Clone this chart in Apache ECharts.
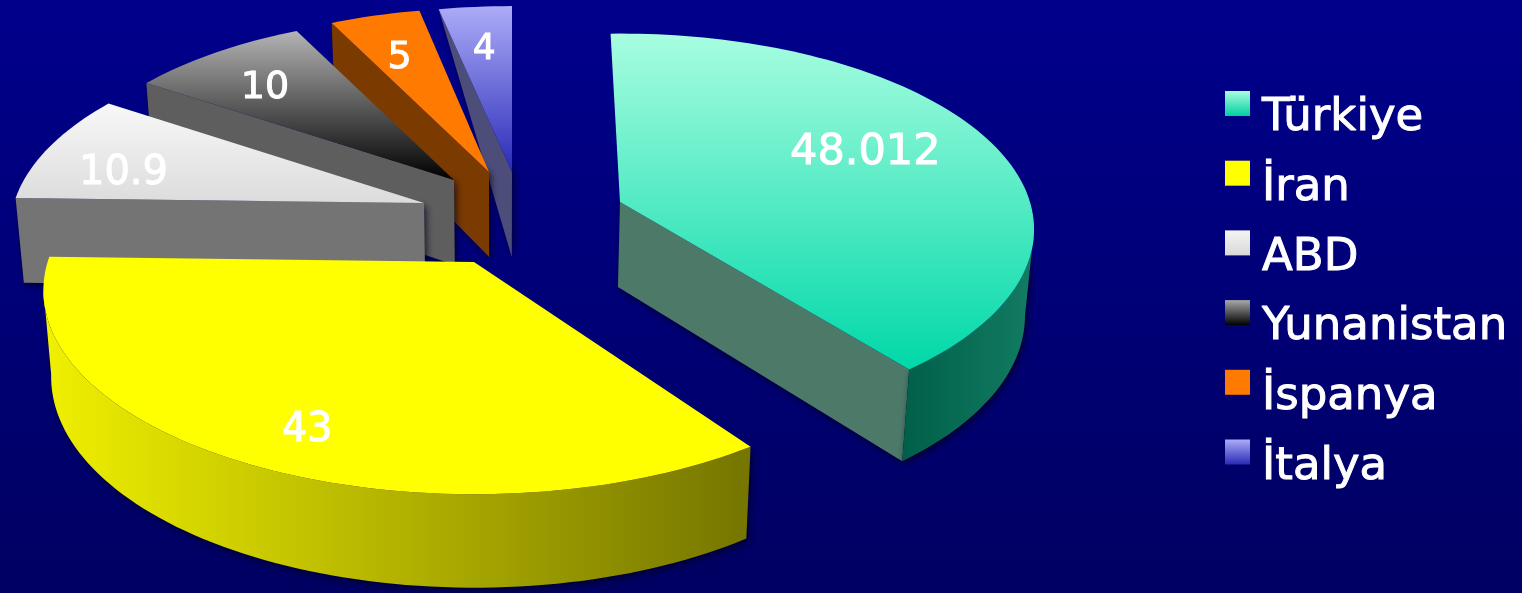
<!DOCTYPE html>
<html><head><meta charset="utf-8">
<style>html,body{margin:0;padding:0;background:#000080}#c{width:1522px;height:593px}</style>
<script src="https://cdn.jsdelivr.net/npm/echarts@6/dist/echarts.min.js"></script></head>
<body><div id="c"></div>
<script>
const categories = ['Türkiye', 'İran', 'ABD', 'Yunanistan', 'İspanya', 'İtalya'];
const values = [48.012, 43, 10.9, 10, 5, 4];

const START_DEG = -1.5, R = 410, K = 192, P = 0.14, DEPTH = 85;
const BASE = [500, 200];
const G = (a, b, h) => new echarts.graphic.LinearGradient(0, 0, h ? 1 : 0, h ? 0 : 1, [{offset: 0, color: a}, {offset: 1, color: b}]);
const looks = [
  {off: [120, 2],   scale: 1,    trim: [0, -.4], top: G('#a8fde0', '#00d8a8'), cut: '#4d7a68', rim: G('#005f48', '#127c62', true), labelR: .60, labelOff: [21, -10], font: 43, z: 16},
  {off: [-26, 62],  scale: 1.04, trim: [3.5, 2], top: '#ffff00', cut: '#7a7a00', rim: G('#f0f000', '#757500', true), labelR: .80, labelOff: [12, 12], font: 40, z: 15},
  {off: [-76, 3],   scale: 1,    trim: [2, 2],   top: G('#f8f8f8', '#dcdcdc'), cut: '#747474', rim: '#747474', labelR: .76, labelOff: [-13, 14], font: 40, z: 14},
  {off: [-46, -20], scale: .975, trim: [2, 2],   top: G('#b4b4b4', '#000000'), cut: '#5e5e5e', rim: '#5e5e5e', labelR: .68, labelOff: [-22, -2], font: 38, z: 13},
  {off: [-11, -28], scale: .975, trim: [2, 2],   top: '#ff7a00', cut: '#7a3a00', rim: '#7a3a00', labelR: .65, labelOff: [-12, -8], font: 38, z: 12},
  {off: [12, -28],  scale: .985, trim: [1.5, 1.5], top: G('#acacf8', '#2a2ab8'), cut: '#4d4d7a', rim: '#4d4d7a', labelR: .62, labelOff: [-4, -15], font: 36, z: 11, farFlat: true}
];
const swatches = [G('#a8fde0', '#00d0a0'), '#ffff00', G('#f4f4f4', '#d8d8d8'), G('#a8a8a8', '#000000'), '#ff7a00', G('#acacf8', '#2a2ab8')];

const total = values.reduce((a, b) => a + b, 0);
function sweep(i) {
  let s = START_DEG;
  for (let j = 0; j < i; j++) s += values[j] / total * 360;
  return [s + looks[i].trim[0], s + values[i] / total * 360 + looks[i].trim[1]];
}
function makeRender(i) {
  const L = looks[i];
  const ax = BASE[0] + L.off[0], ay = BASE[1] + L.off[1];
  const top = (deg, r) => {
    const a = deg * Math.PI / 180, X = Math.sin(a) * r, Y = -Math.cos(a) * r, s = 1 / (1 - P * Y);
    return {x: ax + R * L.scale * X * s, y: ay + K * L.scale * Y * s, Y};
  };
  const down = (p, f) => [BASE[0] + (p.x - BASE[0]) * .983, p.y + f * DEPTH * (1 + .1 * p.Y)];
  return function () {
    const [a0, a1] = sweep(i), kids = [];
    const apex = top(0, 0), n = Math.max(8, Math.ceil((a1 - a0) / 1.5)), arc = [];
    for (let t = 0; t <= n; t++) arc.push(top(a0 + (a1 - a0) * t / n, 1));
    const shadow = {shadowBlur: 7, shadowColor: 'rgba(0,0,30,.75)', shadowOffsetX: 2, shadowOffsetY: 3};
    const wall = (pts, fill) => kids.push({type: 'polygon', shape: {points: pts}, style: Object.assign({fill}, shadow)});
    const first = arc[0], last = arc[n];
    // walk clockwise: faces whose edge runs right-to-left face the viewer
    if (apex.x - first.x > 15) wall([[apex.x, apex.y], [first.x, first.y], L.farFlat ? [first.x, first.y] : down(first, 1), down(apex, 1)], L.cut);
    if (last.x - apex.x > 15) wall([[last.x, last.y], [apex.x, apex.y], down(apex, 1), down(last, 1)], L.cut);
    const rimVis = [];
    for (let t = 0; t < n; t++) if (arc[t + 1].x < arc[t].x) { if (!rimVis.length) rimVis.push(arc[t]); rimVis.push(arc[t + 1]); }
    if (rimVis.length > 1) {
      const pts = rimVis.map(p => [p.x, p.y]).concat(rimVis.slice().reverse().map(p => down(p, 1)));
      wall(pts, L.rim);
    }
    kids.push({type: 'polygon', shape: {points: [[apex.x, apex.y]].concat(arc.map(p => [p.x, p.y]))}, style: {fill: L.top}});
    const lp = top((a0 + a1) / 2, L.labelR);
    kids.push({type: 'text', style: {text: String(values[i]), x: lp.x + L.labelOff[0], y: lp.y + L.labelOff[1], fill: '#fff', stroke: '#fff', lineWidth: 1,
      font: L.font + 'px "DejaVu Sans"', align: 'center', verticalAlign: 'middle'}});
    return {type: 'group', children: kids};
  };
}
const option = {
  animation: false,
  backgroundColor: G('#00008c', '#000062'),
  legend: {
    orient: 'vertical', left: 1220, top: 61, itemWidth: 25, itemHeight: 25, itemGap: -5.8,
    data: categories.map((c, i) => ({name: c, icon: 'rect', itemStyle: {color: swatches[i], borderWidth: 0}})),
    selectedMode: false,
    formatter: n => '{a|' + n + '}',
    textStyle: {color: '#fff', rich: {a: {color: '#fff', fontFamily: 'DejaVu Sans', fontSize: 45, lineHeight: 40, padding: [30, 0, 0, 7], textBorderColor: '#fff', textBorderWidth: 1}}}
  },
  series: categories.map((c, i) => ({
    type: 'custom', name: c, coordinateSystem: 'none', z: looks[i].z, silent: true,
    itemStyle: {color: swatches[i]},
    data: [{name: c, value: [values[i]]}],
    renderItem: makeRender(i)
  }))
};
echarts.init(document.getElementById('c'), null, {renderer: 'canvas'}).setOption(option);
</script></body></html>
